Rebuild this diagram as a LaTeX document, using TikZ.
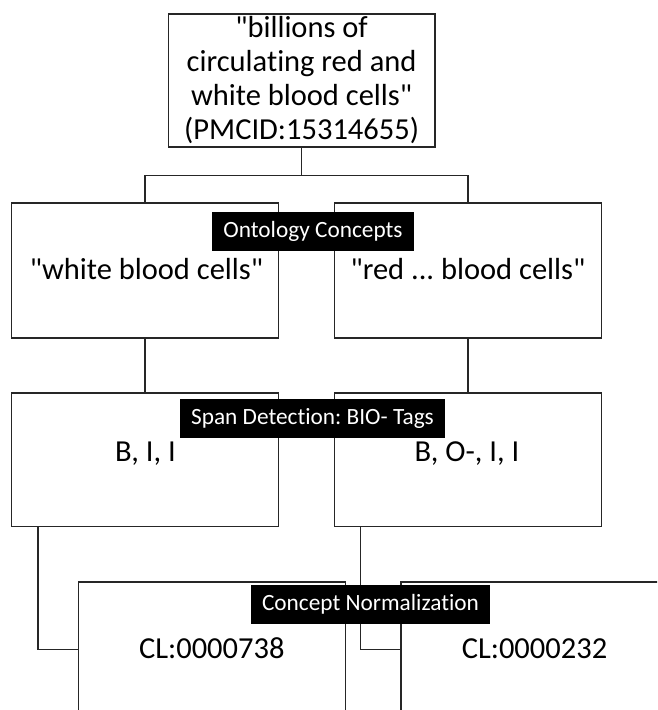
\documentclass[tikz,border=0pt]{standalone}
\usepackage{fontspec}
% plain family: straight quotes kept as typed, no "ti"/"fi" ligatures
\newfontfamily\calib{Carlito}[Ligatures=NoCommon]
\frenchspacing
\usetikzlibrary{calc}
\begin{document}
\begin{tikzpicture}[x=1pt,y=-1pt,
  box/.style={draw=black!85, line width=1.4pt, minimum width=267pt,
    minimum height=135pt, inner sep=0pt},
  conn/.style={draw=black!85, line width=1.4pt},
  tag/.style={fill=black, text=white, font=\calib\fontsize{23.3}{28}\selectfont,
    minimum height=39pt, inner xsep=11pt, inner ysep=0pt},
  body/.style={font=\calib\fontsize{30.5}{34}\selectfont, anchor=base, inner sep=0pt}]
\useasboundingbox (0,0) rectangle (657,710);
\clip (0,0) rectangle (657,710);

% source sentence
\node[box, minimum width=266.5pt, minimum height=133pt, align=center,
  font=\calib\fontsize{30.5}{34}\selectfont] (src) at (301.6,80.5)
  {"billions of\\circulating red and\\white blood cells"\\(PMCID:15314655)};

% ontology concepts
\node[box] (oc1) at (145,270.5) {};
\node[box] (oc2) at (468,270.5) {};
% span detection
\node[box, minimum height=133.5pt] (sd1) at (145,459.7) {};
\node[box, minimum height=133.5pt] (sd2) at (468,459.7) {};
% concept normalization
\node[box] (cn1) at (211.8,649.5) {};
\node[box] (cn2) at (534.5,649.5) {};

% connectors
\draw[conn] (src.south) -- ++(0,28) coordinate (fork);
\draw[conn] (oc1.north) |- (fork) -| (oc2.north);
\draw[conn] (oc1.south) -- (sd1.north);
\draw[conn] (oc2.south) -- (sd2.north);
\draw[conn] ([xshift=27.2pt]sd1.south west) |- (cn1.west);
\draw[conn] ([xshift=26.4pt]sd2.south west) |- (cn2.west);

% box contents
\node[body] (t1) at (146.5,279) {"white blood cells"};
\node[body] (t2) at (468,279) {"red ... blood cells"};
\node[body] (t3) at (145.5,461) {B, I, I};
\node[body] (t4) at (467,461) {B, O-, I, I};
\node[body] (t5) at (211.8,658) {CL:0000738};
\node[body] (t6) at (534.5,658) {CL:0000232};

% stage labels
\node[tag] (l1) at (313,231) {Ontology Concepts};
\node[tag] (l2) at (312.5,418) {Span Detection: BIO- Tags};
\node[tag] (l3) at (370.5,604.5) {Concept Normalization};
\end{tikzpicture}
\end{document}
